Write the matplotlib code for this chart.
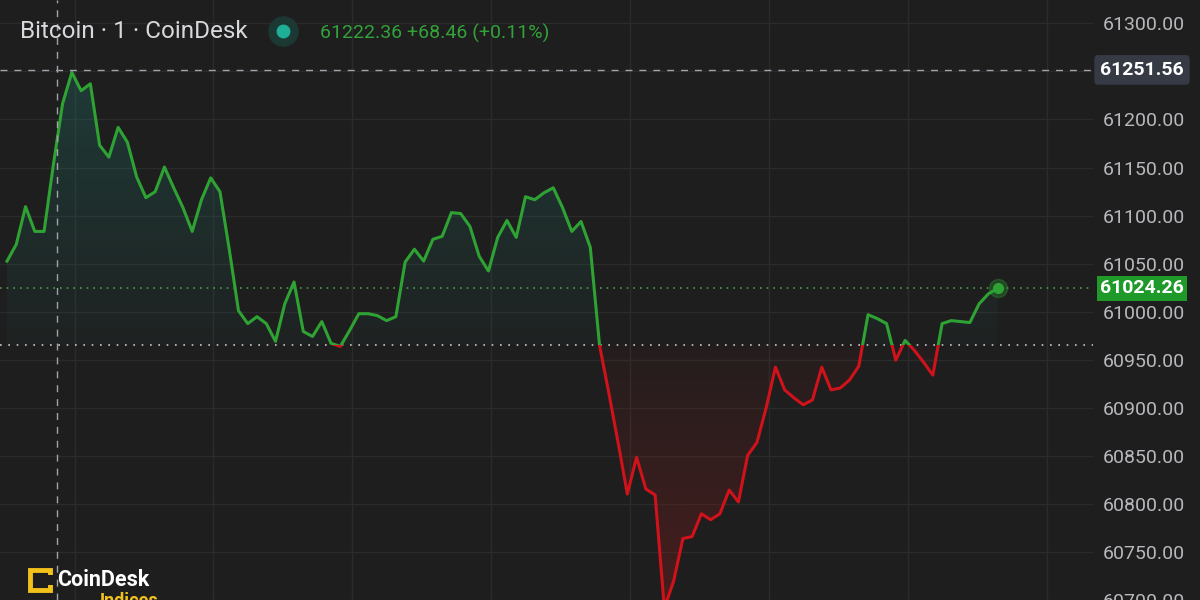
"""Bitcoin 1-minute baseline chart, CoinDesk style (dark theme)"""
import numpy as np
import matplotlib
matplotlib.use('Agg')
import matplotlib.pyplot as plt
from matplotlib.patches import Rectangle, PathPatch
from matplotlib.lines import Line2D
from matplotlib.path import Path
from matplotlib.transforms import blended_transform_factory

# Price per minute
prices = [
    61052.6, 61070.1, 61109.3, 61083.5, 61083.5, 61152.6, 61216.5, 61249.0,
    61229.9, 61237.1, 61173.2, 61160.8, 61191.8, 61176.3, 61140.2, 61118.6,
    61124.8, 61150.5, 61128.9, 61108.3, 61083.5, 61116.5, 61139.2, 61124.8,
    61065.0, 61001.0, 60987.6, 60994.8, 60987.6, 60969.1, 61008.2, 61030.9,
    60979.4, 60974.2, 60989.7, 60967.0, 60963.9, 60980.4, 60997.9, 60997.9,
    60995.9, 60990.7, 60994.8, 61051.6, 61065.0, 61052.6, 61075.3, 61078.4,
    61103.1, 61102.1, 61088.7, 61057.7, 61042.3, 61077.3, 61094.9, 61077.3,
    61119.6, 61116.5, 61123.7, 61128.9, 61108.3, 61083.5, 61093.8, 61067.0,
    60964.9, 60915.5, 60863.9, 60810.3, 60848.4, 60815.5, 60809.3, 60691.7,
    60719.6, 60763.9, 60766.0, 60789.7, 60783.5, 60789.7, 60814.4, 60802.0,
    60850.5, 60863.9, 60900.0, 60942.3, 60918.6, 60910.3, 60903.1, 60908.2,
    60942.3, 60918.6, 60920.6, 60928.9, 60943.3, 60996.9, 60992.8, 60987.6,
    60949.5, 60970.1, 60959.8, 60947.4, 60934.0, 60987.6, 60990.7, 60989.7,
    60988.7, 61008.2, 61018.6, 61024.26,
]
minutes = np.arange(len(prices))

BASELINE = 60965.5
LAST_PRICE = 61024.26
CROSS_PRICE = 61251.56
CROSS_MINUTE = 5.4
ytick_values = list(range(60700, 61301, 50))

title = 'Bitcoin · 1 · CoinDesk'
quote = '61222.36 +68.46 (+0.11%)'

# colours
BG = '#1e1e1e'
GRID = '#2b2b2b'
GREEN = '#2fa234'
RED = '#d0121b'
AXIS_TXT = '#b8b8bc'
FONT = ['Roboto', 'DejaVu Sans']

fig = plt.figure(figsize=(12, 6), dpi=100, facecolor=BG)
ax = fig.add_axes([0, 0, 1093 / 1200, 1])
ax.set_facecolor(BG)

y_lo, y_hi = 60702.7, 61324.3
x_lo, x_hi = -0.76, 117.3
ax.set_xlim(x_lo, x_hi)
ax.set_ylim(y_lo, y_hi)

# grid
for v in ytick_values:
    ax.axhline(v, color=GRID, lw=1, zorder=0)
for gx in np.arange(7.3, x_hi, 15):
    ax.axvline(gx, color=GRID, lw=1, zorder=0)

vals = np.array(prices)


def gradient_fill(where, color, a_far, a_near, far):
    """Fills between line and baseline with a vertical alpha gradient"""
    coll = ax.fill_between(minutes, vals, BASELINE, where=where,
                           interpolate=True, facecolor='none', edgecolor='none')
    path = Path.make_compound_path(*coll.get_paths())
    patch = PathPatch(path, transform=ax.transData, facecolor='none',
                      edgecolor='none')
    ax.add_patch(patch)
    rgba = np.zeros((200, 1, 4))
    rgba[..., :3] = matplotlib.colors.to_rgb(color)
    alphas = np.linspace(a_far, a_near, 200)
    lo, hi = sorted([BASELINE, far])
    if far > BASELINE:
        rgba[:, 0, 3] = alphas          # top row = far from baseline
    else:
        rgba[:, 0, 3] = alphas[::-1]
    im = ax.imshow(rgba, extent=[x_lo, x_hi, lo, hi], aspect='auto',
                   origin='upper', zorder=1)
    im.set_clip_path(patch)


gradient_fill(vals >= BASELINE, '#22897c', 0.28, 0.04, 61260)
gradient_fill(vals <= BASELINE, '#a01c1c', 0.32, 0.05, 60690)

# baseline line: green above, red below
for color, rect in [(GREEN, (x_lo, BASELINE, x_hi - x_lo, 1000)),
                    (RED, (x_lo, BASELINE - 1000, x_hi - x_lo, 1000))]:
    ln, = ax.plot(minutes, vals, color=color, lw=2.2, zorder=3,
                  solid_joinstyle='round')
    clip = Rectangle(rect[:2], rect[2], rect[3], transform=ax.transData)
    ln.set_clip_path(clip)

# reference lines
ax.axhline(BASELINE, color='#c8c8c8', lw=1.2, ls=(0, (1, 4)), zorder=2)
ax.axhline(LAST_PRICE, color='#4c9a4f', lw=1.2, ls=(0, (1, 3)), zorder=2)
ax.axhline(CROSS_PRICE, color='#a0a3aa', lw=1, ls=(0, (5, 5)), zorder=4)
ax.axvline(CROSS_MINUTE, color='#a0a3aa', lw=1, ls=(0, (5, 5)), zorder=4)

# last point marker
ax.plot(minutes[-1], vals[-1], 'o', ms=13, color=GREEN, alpha=0.3, zorder=5)
ax.plot(minutes[-1], vals[-1], 'o', ms=7, color=GREEN, zorder=6)

# price axis on the right
ax.yaxis.tick_right()
ax.set_yticks(ytick_values)
ax.set_yticklabels([f'{v:.2f}' for v in ytick_values])
ax.tick_params(axis='y', length=0, pad=7, labelsize=14, labelcolor=AXIS_TXT)
for lab in ax.get_yticklabels():
    lab.set_family(FONT)
ax.set_xticks([])
for s in ax.spines.values():
    s.set_visible(False)

# price labels in boxes
tr = blended_transform_factory(fig.transFigure, ax.transData)
fig.text(1142 / 1200, CROSS_PRICE, f'{CROSS_PRICE:.2f}', transform=tr,
         ha='center', va='center', color='white', fontsize=14, weight='bold',
         family=FONT,
         bbox=dict(boxstyle='round,pad=0.3,rounding_size=0.2', fc='#363a45',
                   ec='none'))
fig.text(1142 / 1200, LAST_PRICE, f'{LAST_PRICE:.2f}', transform=tr,
         ha='center', va='center', color='white', fontsize=14, weight='bold',
         family=FONT,
         bbox=dict(boxstyle='square,pad=0.18', fc='#1f9a2a', ec='none'))

# header
fig.text(20 / 1200, 1 - 32 / 600, title, ha='left', va='center',
         color='#d8d9dc', fontsize=17.5, family=FONT)
dot_xy = ([283 / 1200], [1 - 31 / 600])
fig.add_artist(Line2D(*dot_xy, transform=fig.transFigure, marker='o', ms=21,
                      color='#1c3833', ls='none'))
fig.add_artist(Line2D(*dot_xy, transform=fig.transFigure, marker='o', ms=9,
                      color='#1fae96', ls='none'))
fig.text(320 / 1200, 1 - 33 / 600, quote, ha='left', va='center',
         color='#33a23a', fontsize=14, family=FONT)

# CoinDesk Indices logo
fig.add_artist(Rectangle((30 / 1200, 1 - 590 / 600), 20 / 1200, 20 / 600,
                         transform=fig.transFigure, fc='none', ec='#f2c21b',
                         lw=3.5))
fig.add_artist(Rectangle((46 / 1200, 1 - 585 / 600), 7 / 1200, 10 / 600,
                         transform=fig.transFigure, fc=BG, ec='none'))
fig.text(57 / 1200, 1 - 580 / 600, 'CoinDesk', ha='left', va='center',
         color='white', fontsize=15.5, weight='bold', family=FONT)
fig.text(100 / 1200, 1 - 601 / 600, 'Indices', ha='left', va='center',
         color='#f2c21b', fontsize=13, weight='bold', family=FONT)

fig.savefig('out.png', dpi=100, facecolor=BG)
